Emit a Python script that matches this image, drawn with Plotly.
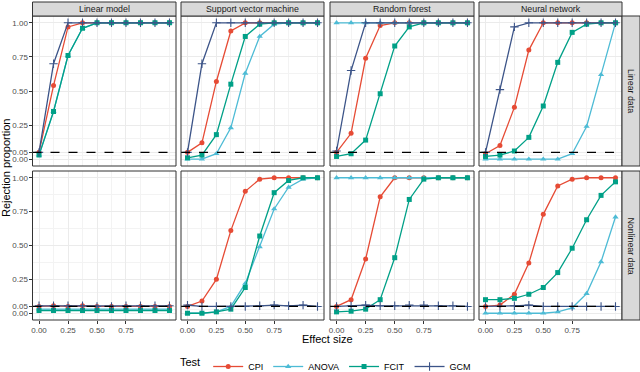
import plotly.graph_objects as go

# ---------------- data ----------------
effect_size = [0.0, 0.125, 0.25, 0.375, 0.5, 0.625, 0.75, 0.875, 1.0, 1.125]
x_tick_vals = [0.0, 0.25, 0.5, 0.75]
x_tick_text = ["0.00", "0.25", "0.50", "0.75"]
y_tick_vals = [0.0, 0.05, 0.25, 0.5, 0.75, 1.0]
y_tick_text = ["0.00", "0.05", "0.25", "0.50", "0.75", "1.00"]

models = ["Linear model", "Support vector machine", "Random forest", "Neural network"]
data_types = ["Linear data", "Nonlinear data"]
tests = ["CPI", "ANOVA", "FCIT", "GCM"]
alpha_level = 0.05

cpi_linear = {
    "Linear model": [0.05, 0.54, 0.97, 1, 1, 1, 1, 1, 1, 1],
    "Support vector machine": [0.05, 0.12, 0.57, 0.94, 1, 1, 1, 1, 1, 1],
    "Random forest": [0.05, 0.19, 0.74, 0.98, 1, 1, 1, 1, 1, 1],
    "Neural network": [0.04, 0.10, 0.38, 0.80, 1, 1, 1, 1, 1, 1],
}
anova_linear = {
    "Linear model": [0.03, 0.35, 0.76, 0.96, 1, 1, 1, 1, 1, 1],
    "Support vector machine": [0.0, 0.0, 0.04, 0.23, 0.63, 0.90, 0.99, 1, 1, 1],
    "Random forest": [1, 1, 1, 1, 1, 1, 1, 1, 1, 1],
    "Neural network": [0, 0, 0, 0, 0, 0, 0.04, 0.24, 0.62, 1.0],
}
fcit_linear = {
    "Linear model": [0.03, 0.35, 0.76, 0.96, 1, 1, 1, 1, 1, 1],
    "Support vector machine": [0.01, 0.03, 0.18, 0.55, 0.90, 0.99, 1, 1, 1, 1],
    "Random forest": [0.02, 0.04, 0.14, 0.48, 0.83, 0.97, 1, 1, 1, 1],
    "Neural network": [0.02, 0.03, 0.06, 0.16, 0.39, 0.71, 0.93, 0.99, 1, 1],
}
gcm_linear = {
    "Linear model": [0.05, 0.70, 1, 1, 1, 1, 1, 1, 1, 1],
    "Support vector machine": [0.05, 0.70, 1, 1, 1, 1, 1, 1, 1, 1],
    "Random forest": [0.06, 0.65, 1, 1, 1, 1, 1, 1, 1, 1],
    "Neural network": [0.05, 0.51, 0.97, 1, 1, 1, 1, 1, 1, 1],
}
cpi_nonlinear = {
    "Linear model": [0.05, 0.055, 0.05, 0.055, 0.05, 0.05, 0.05, 0.05, 0.05, 0.05],
    "Support vector machine": [0.05, 0.09, 0.25, 0.61, 0.90, 0.99, 1, 1, 1, 1],
    "Random forest": [0.05, 0.10, 0.40, 0.86, 1, 1, 1, 1, 1, 1],
    "Neural network": [0.05, 0.06, 0.14, 0.37, 0.73, 0.94, 0.99, 1, 1, 1],
}
anova_nonlinear = {
    "Linear model": [0.03, 0.03, 0.03, 0.03, 0.03, 0.03, 0.03, 0.03, 0.03, 0.03],
    "Support vector machine": [0, 0, 0.01, 0.05, 0.22, 0.49, 0.77, 0.93, 0.99, 1.0],
    "Random forest": [1, 1, 1, 1, 1, 1, 1, 1, 1, 1],
    "Neural network": [0, 0, 0, 0, 0, 0.01, 0.04, 0.145, 0.38, 0.71],
}
fcit_nonlinear = {
    "Linear model": [0.02, 0.02, 0.02, 0.02, 0.02, 0.02, 0.02, 0.02, 0.02, 0.02],
    "Support vector machine": [0, 0, 0.01, 0.03, 0.19, 0.57, 0.89, 0.98, 1, 1],
    "Random forest": [0.01, 0.015, 0.03, 0.10, 0.41, 0.84, 0.99, 1, 1, 1],
    "Neural network": [0.10, 0.10, 0.11, 0.14, 0.19, 0.30, 0.48, 0.69, 0.87, 0.97],
}
gcm_nonlinear = {
    "Linear model": [0.055, 0.055, 0.055, 0.055, 0.05, 0.05, 0.055, 0.055, 0.055, 0.055],
    "Support vector machine": [0.06, 0.05, 0.05, 0.05, 0.05, 0.055, 0.06, 0.055, 0.06, 0.05],
    "Random forest": [0.05, 0.055, 0.06, 0.055, 0.055, 0.06, 0.06, 0.055, 0.055, 0.05],
    "Neural network": [0.05, 0.05, 0.055, 0.06, 0.05, 0.05, 0.05, 0.05, 0.05, 0.05],
}

series = {
    "Linear data": {"CPI": cpi_linear, "ANOVA": anova_linear, "FCIT": fcit_linear, "GCM": gcm_linear},
    "Nonlinear data": {"CPI": cpi_nonlinear, "ANOVA": anova_nonlinear, "FCIT": fcit_nonlinear, "GCM": gcm_nonlinear},
}

colors = {"CPI": "#E64B35", "ANOVA": "#4DBBD5", "FCIT": "#00A087", "GCM": "#3C5488"}
symbols = {"CPI": "circle", "ANOVA": "triangle-up", "FCIT": "square", "GCM": "cross-thin"}
msizes = {"CPI": 5, "ANOVA": 5.5, "FCIT": 5, "GCM": 6}

# ---------------- layout geometry (pixels) ----------------
W = 640
H = 381  # figure is slightly taller than the 372 px window so the legend sits low like the reference
FONT = "Liberation Sans, Arial, sans-serif"
col_px = [(32.5, 176), (181, 324), (330, 474), (479, 622)]
row_px = [(16, 166), (171, 320)]
strip_top = (2, 16)
strip_right = (622, 640)


def px_x(p):
    return p / W


def px_y(p):
    return 1 - p / H


fig = go.Figure()
layout = dict(
    width=W, height=H, autosize=False,
    margin=dict(l=0, r=0, t=0, b=0, pad=0),
    paper_bgcolor="white", plot_bgcolor="white",
    font=dict(family=FONT, size=9, color="#4D4D4D"),
    showlegend=True,
)
shapes = []
annotations = []

x_minor = [0.125, 0.375, 0.625, 0.875, 1.125]
y_minor = [0.025, 0.15, 0.375, 0.625, 0.875]

for r, dt in enumerate(data_types):
    for c, model in enumerate(models):
        i = r * 4 + c + 1
        xa = "x" if i == 1 else f"x{i}"
        ya = "y" if i == 1 else f"y{i}"
        xkey = "xaxis" if i == 1 else f"xaxis{i}"
        ykey = "yaxis" if i == 1 else f"yaxis{i}"
        layout[xkey] = dict(
            domain=[px_x(col_px[c][0]), px_x(col_px[c][1])],
            anchor=ya, range=[-0.05625, 1.18125],
            tickvals=x_tick_vals, ticktext=x_tick_text,
            showticklabels=(r == 1),
            ticks="outside" if r == 1 else "", ticklen=3, tickcolor="#333333",
            ticklabelstandoff=-1,
            showgrid=True, gridcolor="#EBEBEB", gridwidth=1, zeroline=False,
            minor=dict(tickvals=x_minor, showgrid=True, gridcolor="#F3F3F3", gridwidth=1, ticks=""),
            tickfont=dict(size=8, color="#4D4D4D"), fixedrange=True, automargin=False,
        )
        layout[ykey] = dict(
            domain=[px_y(row_px[r][1]), px_y(row_px[r][0])],
            anchor=xa, range=[-0.05, 1.05],
            tickvals=y_tick_vals, ticktext=y_tick_text,
            showticklabels=(c == 0),
            ticks="outside" if c == 0 else "", ticklen=3, tickcolor="#333333",
            ticklabelstandoff=-1,
            showgrid=True, gridcolor="#EBEBEB", gridwidth=1, zeroline=False,
            minor=dict(tickvals=y_minor, showgrid=True, gridcolor="#F3F3F3", gridwidth=1, ticks=""),
            tickfont=dict(size=8, color="#4D4D4D"), fixedrange=True, automargin=False,
        )
        for t in tests:
            vals = series[dt][t][model]
            fig.add_trace(go.Scatter(
                x=effect_size, y=vals, xaxis=xa, yaxis=ya,
                mode="lines+markers", name=t, legendgroup=t,
                showlegend=(i == 1),
                line=dict(color=colors[t], width=1.3),
                marker=dict(symbol=symbols[t], size=msizes[t], color=colors[t],
                            line=dict(width=1.1 if t == "GCM" else 0, color=colors[t])),
                cliponaxis=True,
            ))
        # dashed alpha line
        shapes.append(dict(type="line", xref=f"{xa} domain", yref=ya, x0=0, x1=1,
                           y0=alpha_level, y1=alpha_level,
                           line=dict(color="black", width=1.2, dash="dash"), layer="above"))
        # panel border
        shapes.append(dict(type="rect", xref="paper", yref="paper",
                           x0=px_x(col_px[c][0]), x1=px_x(col_px[c][1]),
                           y0=px_y(row_px[r][1]), y1=px_y(row_px[r][0]),
                           line=dict(color="#333333", width=1), fillcolor="rgba(0,0,0,0)", layer="above"))

# top strips
for c, model in enumerate(models):
    shapes.append(dict(type="rect", xref="paper", yref="paper",
                       x0=px_x(col_px[c][0]), x1=px_x(col_px[c][1]),
                       y0=px_y(strip_top[1]), y1=px_y(strip_top[0]),
                       line=dict(color="#333333", width=1), fillcolor="#D9D9D9"))
    annotations.append(dict(text=model, xref="paper", yref="paper",
                            x=px_x((col_px[c][0] + col_px[c][1]) / 2),
                            y=px_y((strip_top[0] + strip_top[1]) / 2),
                            showarrow=False, xanchor="center", yanchor="middle",
                            font=dict(size=8.8, color="#1A1A1A", family=FONT)))
# right strips
for r, dt in enumerate(data_types):
    shapes.append(dict(type="rect", xref="paper", yref="paper",
                       x0=px_x(strip_right[0]), x1=px_x(strip_right[1]),
                       y0=px_y(row_px[r][1]), y1=px_y(row_px[r][0]),
                       line=dict(color="#333333", width=1), fillcolor="#D9D9D9"))
    annotations.append(dict(text=dt, xref="paper", yref="paper",
                            x=px_x((strip_right[0] + strip_right[1]) / 2),
                            y=px_y((row_px[r][0] + row_px[r][1]) / 2),
                            showarrow=False, xanchor="center", yanchor="middle", textangle=90,
                            font=dict(size=8.8, color="#1A1A1A", family=FONT)))

# axis titles
annotations.append(dict(text="Effect size", xref="paper", yref="paper",
                        x=px_x(327), y=px_y(339), showarrow=False,
                        xanchor="center", yanchor="middle",
                        font=dict(size=11, color="black", family=FONT)))
annotations.append(dict(text="Rejection proportion", xref="paper", yref="paper",
                        x=px_x(6), y=px_y(168), showarrow=False, textangle=-90,
                        xanchor="center", yanchor="middle",
                        font=dict(size=11, color="black", family=FONT)))

layout["shapes"] = shapes
layout["annotations"] = annotations
layout["legend"] = dict(
    orientation="h", x=px_x(327), xanchor="center",
    y=0, yanchor="bottom",
    title=dict(text="Test", font=dict(size=11, color="black", family=FONT), side="left"),
    font=dict(size=9, color="black", family=FONT),
    itemwidth=30, tracegroupgap=0, bgcolor="rgba(0,0,0,0)", borderwidth=0,
)
fig.update_layout(**layout)
fig.write_html(
    "out.html",
    config={"displayModeBar": False, "responsive": False},
    post_script=(
        "document.documentElement.style.margin='0';document.documentElement.style.overflow='hidden';"
        "document.body.style.margin='0';document.body.style.padding='0';document.body.style.overflow='hidden';"
        "var d=document.getElementById('{plot_id}');d.style.position='fixed';d.style.left='0px';d.style.top='0px';"
    ),
)
